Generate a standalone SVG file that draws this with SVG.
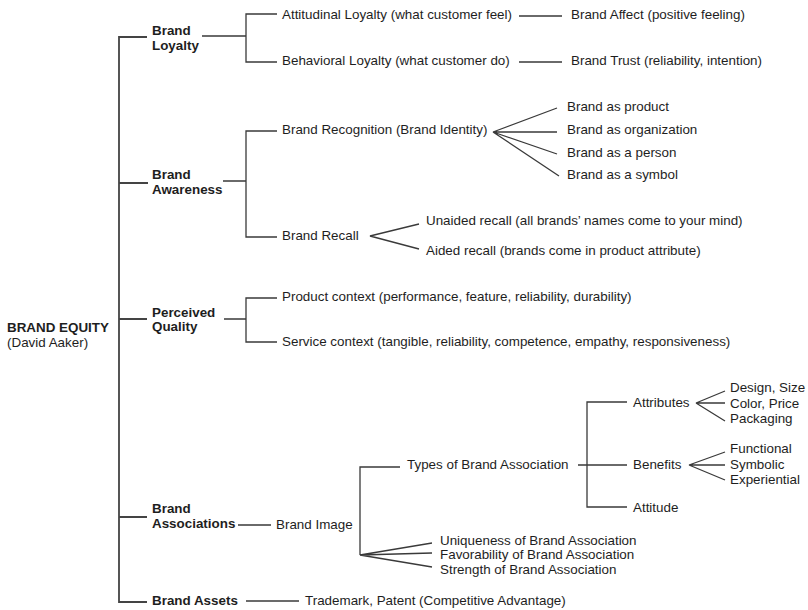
<svg xmlns="http://www.w3.org/2000/svg" width="808" height="610" viewBox="0 0 808 610">
  <style>
    text { font-family: "Liberation Sans", Arial, sans-serif; font-size: 13.4px; fill: #1e1e1e; }
    .b { font-weight: bold; }
    .ln { stroke: #3a3a3a; stroke-width: 1.3; fill: none; }
    .trunk { stroke: #444; stroke-width: 1.8; fill: none; }
  </style>
  <rect width="808" height="610" fill="#ffffff"/>

  <!-- connectors -->
  <g id="connectors">
    <!-- main trunk -->
    <path class="trunk" d="M147,37 H119 V602 H147 M119,183 H148 M119,319 H147 M119,517 H147"/>
    <!-- brand loyalty -->
    <path class="ln" d="M202,36 H246 M277,14 H246 V62 H277 M519,16 H562 M519,62 H562"/>
    <!-- brand awareness -->
    <path class="ln" d="M223,181 H246 M277,131 H246 V237 H277"/>
    <path class="ln" d="M557,108 L493,132 L557,132 M557,154 L493,132 L559,176"/>
    <path class="ln" d="M419,224 L370,236 L419,249"/>
    <!-- perceived quality -->
    <path class="ln" d="M224,319 H246 M277,298 H246 V342 H277"/>
    <!-- brand associations -->
    <path class="ln" d="M238,525 H271 M400,467 H360 V555 M432,543 L360,555 L432,553 M360,555 L432,567"/>
    <path class="ln" d="M578,465 H627 M627,402 H587 V507 H627"/>
    <path class="ln" d="M725,391 L696,403 L725,403 M696,403 L725,421"/>
    <path class="ln" d="M725,452 L689,465 L725,465 M689,465 L725,480"/>
    <!-- brand assets -->
    <path class="ln" d="M246,601 H299"/>
  </g>

  <g id="brand-equity">
    <text class="b" x="7" y="332">BRAND EQUITY</text>
    <text x="7" y="347">(David Aaker)</text>
  </g>

  <!-- brand loyalty branch -->
  <g id="brand-loyalty"><text class="b" x="152" y="35">Brand</text><text class="b" x="152" y="50">Loyalty</text></g>
  <g id="attitudinal-loyalty"><text x="282" y="19">Attitudinal Loyalty (what customer feel)</text></g>
  <g id="brand-affect"><text x="571" y="19">Brand Affect (positive feeling)</text></g>
  <g id="behavioral-loyalty"><text x="282" y="65">Behavioral Loyalty (what customer do)</text></g>
  <g id="brand-trust"><text x="571" y="65">Brand Trust (reliability, intention)</text></g>

  <!-- brand awareness branch -->
  <g id="brand-awareness"><text class="b" x="152" y="179">Brand</text><text class="b" x="152" y="194">Awareness</text></g>
  <g id="brand-recognition"><text x="282" y="134">Brand Recognition (Brand Identity)</text></g>
  <g id="identity-as-product"><text x="567" y="111">Brand as product</text></g>
  <g id="identity-as-organization"><text x="567" y="134">Brand as organization</text></g>
  <g id="identity-as-person"><text x="567" y="157">Brand as a person</text></g>
  <g id="identity-as-symbol"><text x="567" y="179">Brand as a symbol</text></g>
  <g id="brand-recall"><text x="282" y="240">Brand Recall</text></g>
  <g id="unaided-recall"><text x="426" y="225">Unaided recall (all brands’ names come to your mind)</text></g>
  <g id="aided-recall"><text x="426" y="255">Aided recall (brands come in product attribute)</text></g>

  <!-- perceived quality branch -->
  <g id="perceived-quality"><text class="b" x="152" y="317">Perceived</text><text class="b" x="152" y="331">Quality</text></g>
  <g id="product-context"><text x="282" y="301">Product context (performance, feature, reliability, durability)</text></g>
  <g id="service-context"><text x="282" y="346">Service context (tangible, reliability, competence, empathy, responsiveness)</text></g>

  <!-- brand associations branch -->
  <g id="brand-associations"><text class="b" x="152" y="513">Brand</text><text class="b" x="152" y="528">Associations</text></g>
  <g id="brand-image"><text x="276" y="529">Brand Image</text></g>
  <g id="association-types"><text x="407" y="469">Types of Brand Association</text></g>
  <g id="attributes"><text x="633" y="407">Attributes</text></g>
  <g id="attr-design"><text x="730" y="392">Design, Size</text></g>
  <g id="attr-color"><text x="730" y="408">Color, Price</text></g>
  <g id="attr-packaging"><text x="730" y="423">Packaging</text></g>
  <g id="benefits"><text x="633" y="469">Benefits</text></g>
  <g id="benefit-functional"><text x="730" y="453">Functional</text></g>
  <g id="benefit-symbolic"><text x="730" y="469">Symbolic</text></g>
  <g id="benefit-experiential"><text x="730" y="484">Experiential</text></g>
  <g id="attitude"><text x="633" y="512">Attitude</text></g>
  <g id="uniqueness"><text x="440" y="545">Uniqueness of Brand Association</text></g>
  <g id="favorability"><text x="440" y="559">Favorability of Brand Association</text></g>
  <g id="strength"><text x="440" y="574">Strength of Brand Association</text></g>

  <!-- brand assets branch -->
  <g id="brand-assets"><text class="b" x="152" y="605">Brand Assets</text></g>
  <g id="trademark-patent"><text x="305" y="605">Trademark, Patent (Competitive Advantage)</text></g>
</svg>
